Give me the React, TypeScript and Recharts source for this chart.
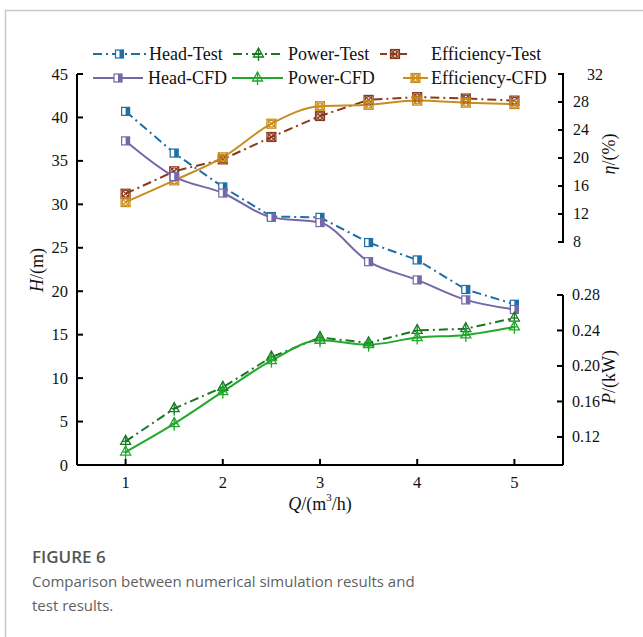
import React from "react";
import { LineChart, Line, XAxis, YAxis, ReferenceLine } from "recharts";

// flow rate Q (m3/h)
const flow = [1, 1.5, 2, 2.5, 3, 3.5, 4, 4.5, 5];
const headTest = [40.7, 35.9, 32.0, 28.6, 28.5, 25.6, 23.6, 20.2, 18.5];
const headCfd = [37.3, 33.2, 31.3, 28.5, 27.9, 23.4, 21.3, 19.0, 17.9];
const powerTest = [0.115, 0.152, 0.176, 0.21, 0.232, 0.226, 0.24, 0.242, 0.254];
const powerCfd = [0.103, 0.135, 0.171, 0.206, 0.229, 0.224, 0.232, 0.235, 0.244];
const effTest = [14.9, 18.1, 19.8, 23.0, 26.0, 28.3, 28.7, 28.5, 28.2];
const effCfd = [13.7, 16.8, 20.1, 24.9, 27.4, 27.6, 28.2, 27.9, 27.7];

const qTicks = [1, 2, 3, 4, 5];
const headTicks = [0, 5, 10, 15, 20, 25, 30, 35, 40, 45];
const effTicks = [8, 12, 16, 20, 24, 28, 32];
const powerTicks = [0.12, 0.16, 0.2, 0.24, 0.28];

const C = {
  headTest: "#1f6ea6",
  headCfd: "#7568a8",
  powerTest: "#177a22",
  powerCfd: "#22a82c",
  effTest: "#8a3a1c",
  effCfd: "#c88d1e",
};

const SERIF = "Liberation Serif";
const DASHDOT = "9 4 2 4";

const data = flow.map((q, i) => ({
  q,
  headTest: headTest[i],
  headCfd: headCfd[i],
  powerTest: powerTest[i],
  powerCfd: powerCfd[i],
  effTest: effTest[i],
  effCfd: effCfd[i],
}));

function SquareMark({ cx, cy, color }: { cx: number; cy: number; color: string }) {
  return (
    <g>
      <rect x={cx - 4} y={cy - 4} width={8} height={8} fill="#fff" stroke={color} strokeWidth={1.2} />
      <rect x={cx} y={cy - 4} width={4} height={8} fill={color} />
    </g>
  );
}

function TriMark({ cx, cy, color }: { cx: number; cy: number; color: string }) {
  return (
    <g fill="none" stroke={color} strokeWidth={1.3}>
      <path d={`M${cx},${cy - 6} L${cx + 5},${cy + 3} L${cx - 5},${cy + 3} Z`} />
      <line x1={cx} x2={cx} y1={cy - 6} y2={cy + 7} />
      <line x1={cx - 3} x2={cx + 3} y1={cy} y2={cy} />
    </g>
  );
}

function EffMark({ cx, cy, color }: { cx: number; cy: number; color: string }) {
  return (
    <g fill="none" stroke={color} strokeWidth={1.2}>
      <rect x={cx - 4.5} y={cy - 4.5} width={9} height={9} />
      <circle cx={cx} cy={cy} r={3.3} />
      <line x1={cx - 4.5} y1={cy - 4.5} x2={cx + 4.5} y2={cy + 4.5} />
      <line x1={cx + 4.5} y1={cy - 4.5} x2={cx - 4.5} y2={cy + 4.5} />
    </g>
  );
}

const dotOf = (Mark: any, color: string) => (p: any) =>
  <Mark key={`d${p.index}`} cx={p.cx} cy={p.cy} color={color} />;

const LeftTick = ({ x, y, payload }: any) => (
  <g>
    <line x1={x} x2={x + 6} y1={y} y2={y} stroke="#000" strokeWidth={2} />
    <text x={x - 9} y={y} textAnchor="end" dominantBaseline="central" fontFamily={SERIF} fontSize={16.5} fill="#111">
      {payload.value}
    </text>
  </g>
);

const RightTick = (digits: number) => ({ x, y, payload }: any) => {
  const v = Number(payload.value);
  const shift = v === 32 ? 14 : 0;
  return (
    <g>
      <line x1={x - 6} x2={x} y1={y} y2={y} stroke="#000" strokeWidth={2} />
      <text x={x + 9 + shift} y={y} textAnchor="start" dominantBaseline="central" fontFamily={SERIF} fontSize={16} fill="#111">
        {v.toFixed(digits)}
      </text>
    </g>
  );
};

const BottomTick = ({ x, y, payload }: any) => (
  <g>
    <line x1={x} x2={x} y1={y} y2={y - 6} stroke="#000" strokeWidth={2} />
    <text x={x} y={y + 17} textAnchor="middle" dominantBaseline="central" fontFamily={SERIF} fontSize={16.5} fill="#111">
      {payload.value}
    </text>
  </g>
);

const legendRows = [
  { label: "Head-Test", color: C.headTest, Mark: SquareMark, dash: DASHDOT, x1: 93, x2: 146, tx: 149, y: 54 },
  { label: "Power-Test", color: C.powerTest, Mark: TriMark, dash: DASHDOT, x1: 233, x2: 284, tx: 288, y: 54 },
  { label: "Efficiency-Test", color: C.effTest, Mark: EffMark, dash: "7 3", x1: 380, x2: 410, tx: 431, y: 54 },
  { label: "Head-CFD", color: C.headCfd, Mark: SquareMark, dash: undefined, x1: 93, x2: 143, tx: 148, y: 78 },
  { label: "Power-CFD", color: C.powerCfd, Mark: TriMark, dash: undefined, x1: 232, x2: 283, tx: 288, y: 78 },
  { label: "Efficiency-CFD", color: C.effCfd, Mark: EffMark, dash: undefined, x1: 403, x2: 428, tx: 431, y: 78 },
];

export default function App() {
  return (
    <div style={{ position: "absolute", left: 0, top: 0, width: 643, height: 637, background: "#fff", overflow: "hidden" }}>
      <div style={{ position: "absolute", left: 0, top: 0 }}>
        <LineChart width={643} height={520} data={data} margin={{ top: 74, left: 76, right: 78, bottom: 54 }}>
          <XAxis
            dataKey="q"
            type="number"
            domain={[0.5, 5.5]}
            ticks={qTicks}
            allowDataOverflow
            height={1}
            tickSize={0}
            tickMargin={0}
            tickLine={false}
            axisLine={{ stroke: "#000", strokeWidth: 2 }}
            tick={BottomTick}
          />
          <YAxis
            yAxisId="H"
            type="number"
            domain={[0, 45]}
            ticks={headTicks}
            allowDataOverflow
            width={1}
            tickSize={0}
            tickMargin={0}
            tickLine={false}
            axisLine={{ stroke: "#000", strokeWidth: 2 }}
            tick={LeftTick}
          />
          <YAxis
            yAxisId="eta"
            orientation="right"
            type="number"
            domain={[-23.86, 32]}
            ticks={effTicks}
            allowDataOverflow
            width={1}
            tickSize={0}
            tickMargin={0}
            tickLine={false}
            axisLine={false}
            tick={RightTick(0)}
          />
          <YAxis
            yAxisId="P"
            orientation="right"
            type="number"
            domain={[0.0884, 0.529]}
            ticks={powerTicks}
            allowDataOverflow
            width={1}
            tickSize={0}
            tickMargin={0}
            tickLine={false}
            axisLine={false}
            tick={RightTick(2)}
          />
          <ReferenceLine
            yAxisId="eta"
            segment={[{ x: 5.5, y: 8 }, { x: 5.5, y: 32 }]}
            stroke="#000"
            strokeWidth={2}
            ifOverflow="visible"
          />
          <ReferenceLine
            yAxisId="P"
            segment={[{ x: 5.5, y: 0.0884 }, { x: 5.5, y: 0.28 }]}
            stroke="#000"
            strokeWidth={2}
            ifOverflow="visible"
          />
          <Line yAxisId="eta" dataKey="effTest" type="linear" stroke={C.effTest} strokeWidth={2} strokeDasharray={DASHDOT} dot={dotOf(EffMark, C.effTest)} isAnimationActive={false} />
          <Line yAxisId="eta" dataKey="effCfd" type="monotone" stroke={C.effCfd} strokeWidth={2} dot={dotOf(EffMark, C.effCfd)} isAnimationActive={false} />
          <Line yAxisId="H" dataKey="headTest" type="linear" stroke={C.headTest} strokeWidth={2} strokeDasharray={DASHDOT} dot={dotOf(SquareMark, C.headTest)} isAnimationActive={false} />
          <Line yAxisId="H" dataKey="headCfd" type="monotone" stroke={C.headCfd} strokeWidth={2} dot={dotOf(SquareMark, C.headCfd)} isAnimationActive={false} />
          <Line yAxisId="P" dataKey="powerTest" type="linear" stroke={C.powerTest} strokeWidth={2} strokeDasharray={DASHDOT} dot={dotOf(TriMark, C.powerTest)} isAnimationActive={false} />
          <Line yAxisId="P" dataKey="powerCfd" type="monotone" stroke={C.powerCfd} strokeWidth={2} dot={dotOf(TriMark, C.powerCfd)} isAnimationActive={false} />
        </LineChart>
      </div>

      <svg width={643} height={637} style={{ position: "absolute", left: 0, top: 0, pointerEvents: "none" }}>
        <line x1={5} x2={643} y1={10.5} y2={10.5} stroke="#c8c8c8" strokeWidth={1.5} />
        <line x1={5.5} x2={5.5} y1={10} y2={637} stroke="#c8c8c8" strokeWidth={1.5} />

        {legendRows.map((r) => (
          <g key={r.label}>
            <line x1={r.x1} x2={r.x2} y1={r.y} y2={r.y} stroke={r.color} strokeWidth={2} strokeDasharray={r.dash} />
            <r.Mark cx={(r.x1 + r.x2) / 2} cy={r.y} color={r.color} />
            <text x={r.tx} y={r.y} dominantBaseline="central" fontFamily={SERIF} fontSize={18} fill="#111">
              {r.label}
            </text>
          </g>
        ))}

        <text x={320} y={504} textAnchor="middle" dominantBaseline="central" fontFamily={SERIF} fontSize={18} fill="#111">
          <tspan fontStyle="italic">Q</tspan>/(m<tspan dy={-7} fontSize={11}>3</tspan><tspan dy={7}>/h)</tspan>
        </text>
        <text transform="translate(37,270) rotate(-90)" textAnchor="middle" dominantBaseline="central" fontFamily={SERIF} fontSize={18} fill="#111">
          <tspan fontStyle="italic">H</tspan>/(m)
        </text>
        <text transform="translate(609,154) rotate(-90)" textAnchor="middle" dominantBaseline="central" fontFamily={SERIF} fontSize={18} fill="#111">
          <tspan fontStyle="italic">η</tspan>/(%)
        </text>
        <text transform="translate(609,377) rotate(-90)" textAnchor="middle" dominantBaseline="central" fontFamily={SERIF} fontSize={18} fill="#111">
          <tspan fontStyle="italic">P</tspan>/(kW)
        </text>
      </svg>

      <div style={{ position: "absolute", left: 32, top: 545, fontFamily: "'Open Sans', 'Noto Sans', sans-serif", color: "#5f5f5f", whiteSpace: "nowrap" }}>
        <div style={{ fontSize: 17, fontWeight: 600, lineHeight: "24px", color: "#555" }}>FIGURE 6</div>
        <div style={{ fontSize: 15, lineHeight: "24px" }}>
          Comparison between numerical simulation results and
          <br />
          test results.
        </div>
      </div>
    </div>
  );
}
